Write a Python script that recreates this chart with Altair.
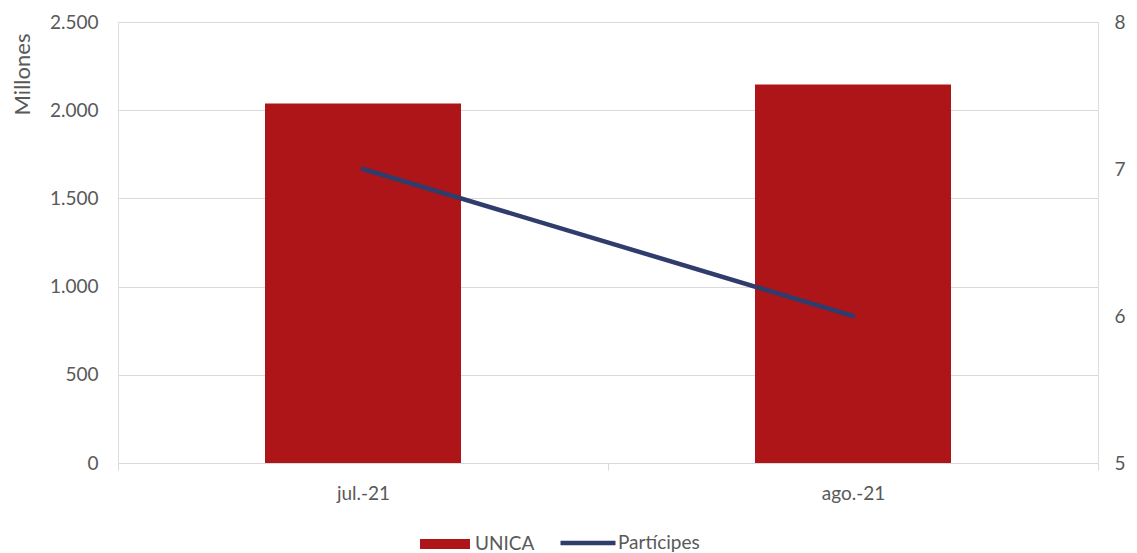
import altair as alt
import pandas as pd

months = ["jul.-21", "ago.-21"]
unica = [2038, 2145]          # millones
participes = [7, 6]

df = pd.DataFrame({"mes": months, "UNICA": unica, "Partícipes": participes,
                   "s1": ["UNICA"] * 2, "s2": ["Partícipes"] * 2})

FONT = "Lato"
GREY = "#595959"
GRID = "#D9D9D9"

x = alt.X("mes:N", sort=months, title=None,
          scale=alt.Scale(paddingInner=0, paddingOuter=0),
          axis=alt.Axis(labelAngle=0, tickBand="extent", ticks=True, tickSize=7,
                        tickColor=GRID, domainColor=GRID, labelFontSize=19,
                        labelColor=GREY, labelPadding=14, grid=False))

bars = alt.Chart(df).mark_bar(width=alt.RelativeBandSize(0.4)).encode(
    x=x,
    y=alt.Y("UNICA:Q", scale=alt.Scale(domain=[0, 2500]),
            axis=alt.Axis(values=[0, 500, 1000, 1500, 2000, 2500],
                          labelExpr="replace(format(datum.value, ',.0f'), ',', '.')",
                          title="Millones", titleFontSize=22, titleFontWeight="normal",
                          titleColor=GREY, titleAngle=-90, titleX=-96, titleY=52,
                          titleAlign="center", titleBaseline="middle",
                          labelFontSize=19, labelColor=GREY, labelPadding=20,
                          domain=False, ticks=False, grid=True, gridColor=GRID)),
    color=alt.Color("s1:N", scale=alt.Scale(domain=["UNICA"], range=["#AE1519"]),
                    legend=alt.Legend(title=None, orient="none", legendX=302, legendY=497,
                                      padding=0,
                                      symbolType="M-1,-0.2H1V0.2H-1Z", symbolSize=2500,
                                      symbolStrokeWidth=0, labelFontSize=19,
                                      labelColor=GREY, labelOffset=5, labelFont=FONT))
)

line = alt.Chart(df).mark_line(strokeWidth=4.5, strokeCap="round").encode(
    x=alt.X("mes:N", sort=months),
    y=alt.Y("Partícipes:Q", scale=alt.Scale(domain=[5, 8]),
            axis=alt.Axis(orient="right", values=[5, 6, 7, 8], title=None,
                          labelFontSize=19, labelColor=GREY, labelPadding=16,
                          domain=False, ticks=False, grid=False)),
    stroke=alt.Stroke("s2:N", scale=alt.Scale(domain=["Partícipes"], range=["#2F3C6C"]),
                      legend=alt.Legend(title=None, orient="none", legendX=440, legendY=491,
                                        padding=0,
                                        symbolType="stroke", symbolSize=3025,
                                        symbolStrokeWidth=4.5, labelFontSize=19,
                                        labelColor=GREY, labelOffset=0, labelFont=FONT))
)

chart = alt.layer(bars, line).resolve_scale(y="independent").properties(
    width=980, height=441,
    autosize=alt.AutoSizeParams(type="none"),
    padding={"left": 110, "top": 14, "right": 31, "bottom": 90},
).configure_view(stroke=None).configure(font=FONT).configure_axis(
    labelFont=FONT, titleFont=FONT
).configure_axisLeft(titleFontSize=22, titleFontWeight="normal")

chart.save("out.html", embed_options={"renderer": "svg", "actions": False})
